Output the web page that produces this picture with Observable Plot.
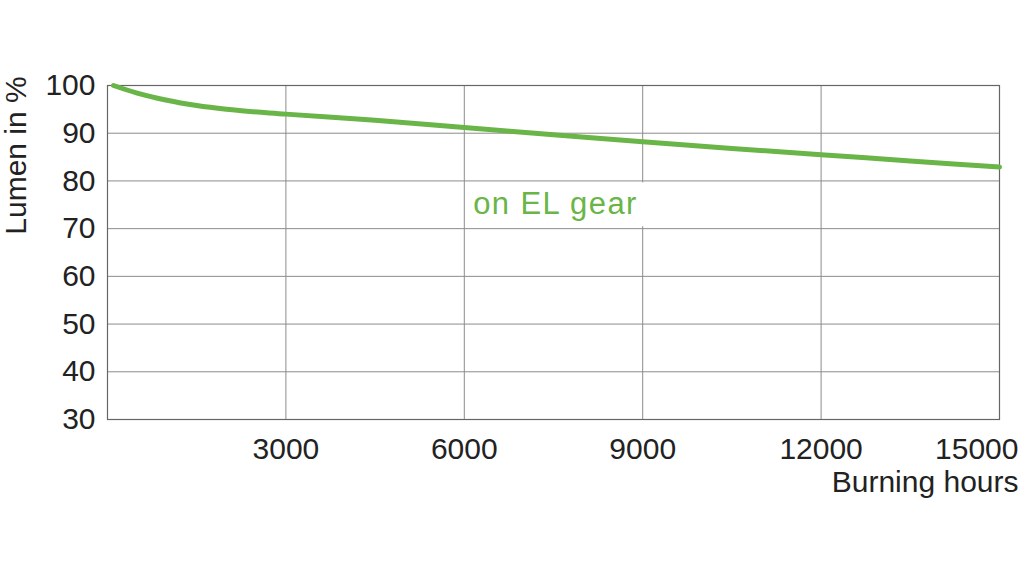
<!DOCTYPE html>
<html>
<head>
<meta charset="utf-8">
<script src="https://cdn.jsdelivr.net/npm/d3@7"></script>
<script src="https://cdn.jsdelivr.net/npm/@observablehq/plot@0.6"></script>
<style>
  html, body { margin: 0; padding: 0; background: #fff; }
  #chart { width: 1024px; height: 578px; }
</style>
</head>
<body>
<div id="chart"></div>
<script>
// Data
const hours = [100, 500, 1000, 1500, 2000, 3000, 4500, 6000, 7500, 9000, 10500, 12000, 13500, 15000];
const lumen = [100, 98.4, 96.9, 95.8, 95.0, 94.0, 92.7, 91.2, 89.7, 88.2, 86.8, 85.5, 84.2, 82.9];
const xTicks = [3000, 6000, 9000, 12000];
const xLastTick = [15000];
const yTicks = [30, 40, 50, 60, 70, 80, 90, 100];
const seriesLabel = "on EL gear";
const labelAt = {x: 6150, y: 75.2};
const labelBox = {x1: 6050, x2: 9040, y1: 70.4, y2: 79.6};
const xTitle = "Burning hours";
const yTitle = "Lumen in %";

const green = "#6ab547";
const rows = hours.map((h, i) => ({h, v: lumen[i]}));
const fmt = d => String(d);

const chart = Plot.plot({
  width: 1024,
  height: 578,
  marginLeft: 107,
  marginRight: 25,
  marginTop: 85,
  marginBottom: 159,
  style: {fontFamily: "'Liberation Sans', Arial, sans-serif", background: "#fff", color: "#222"},
  x: {domain: [0, 15000]},
  y: {domain: [30, 100]},
  marks: [
    Plot.gridX(xTicks, {stroke: "#8c8c8c", strokeOpacity: 1, strokeWidth: 1}),
    Plot.gridY(yTicks.slice(1, -1), {stroke: "#8c8c8c", strokeOpacity: 1, strokeWidth: 1}),
    Plot.rect([labelBox], {x1: "x1", x2: "x2", y1: "y1", y2: "y2", fill: "white"}),
    Plot.frame({stroke: "#666", strokeWidth: 1.2}),
    Plot.axisY(yTicks, {tickSize: 0, tickPadding: 12, fontSize: 30, label: null, fill: "#222", tickFormat: fmt}),
    Plot.axisX(xTicks, {tickSize: 0, tickPadding: 18, fontSize: 30, label: null, fill: "#222", tickFormat: fmt}),
    Plot.axisX(xLastTick, {tickSize: 0, tickPadding: 18, fontSize: 30, label: null, fill: "#222", tickFormat: fmt, textAnchor: "end", dx: 19}),
    Plot.text([xTitle], {frameAnchor: "bottom-right", text: d => d, textAnchor: "end", lineAnchor: "bottom", dx: 19, dy: 72, fontSize: 30, fill: "#222"}),
    Plot.text([yTitle], {frameAnchor: "top-left", text: d => d, rotate: -90, textAnchor: "middle", lineAnchor: "middle", dx: -91, dy: 70, fontSize: 30, fill: "#222"}),
    Plot.line(rows, {x: "h", y: "v", stroke: green, strokeWidth: 5, curve: "monotone-x"}),
    Plot.text([labelAt], {x: "x", y: "y", text: () => seriesLabel, textAnchor: "start", lineAnchor: "middle", fontSize: 31, fill: green})
  ]
});
d3.select(chart).selectAll("text")
  .filter(function() { return this.textContent === seriesLabel; })
  .attr("letter-spacing", "1.4px")
  .style("letter-spacing", "1.4px");
document.getElementById("chart").appendChild(chart);
</script>
</body>
</html>
